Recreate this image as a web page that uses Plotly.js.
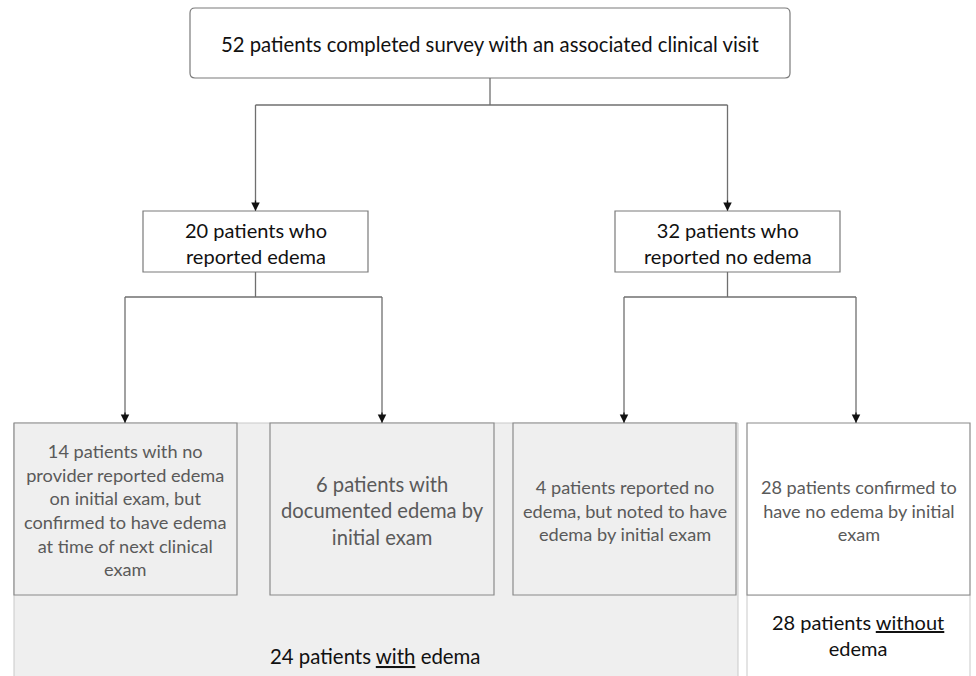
<!DOCTYPE html>
<html>
<head>
<meta charset="utf-8">
<script src="https://cdn.plot.ly/plotly-3.0.1.min.js"></script>
<style>html,body{margin:0;padding:0;background:#fff;}#chart{width:976px;height:676px;}</style>
</head>
<body>
<div id="chart"></div>
<script>
// ---- Flowchart content (data) ----
const rootLabel = "52 patients completed survey with an associated clinical visit";
const rootCount = 52;
const midLabels = ["20 patients who<br>reported edema", "32 patients who<br>reported no edema"];
const midCounts = [20, 32];
const leafLabels = [
  "14 patients with no<br>provider reported edema<br>on initial exam, but<br>confirmed to have edema<br>at time of next clinical<br>exam",
  "6 patients with<br>documented edema by<br>initial exam",
  "4 patients reported no<br>edema, but noted to have<br>edema by initial exam",
  "28 patients confirmed to<br>have no edema by initial<br>exam"
];
const leafCounts = [14, 6, 4, 28];
const leafParent = [0, 0, 1, 1];
const summaryLabels = ["24 patients <u>with</u> edema", "28 patients <u>without</u><br>edema"];
const summaryCounts = [24, 28];

// ---- Geometry (layout only) ----
const W = 976, H = 676;
const rootBox = {x0: 190, x1: 790, y0: 8, y1: 78, r: 5};
const midBoxes = [{x0: 143, x1: 368, y0: 211, y1: 272}, {x0: 615, x1: 840, y0: 211, y1: 272}];
const leafBoxes = [
  {x0: 14, x1: 237, y0: 423, y1: 595},
  {x0: 270, x1: 494, y0: 423, y1: 595},
  {x0: 513, x1: 736, y0: 423, y1: 595},
  {x0: 747, x1: 970, y0: 423, y1: 595}
];
const leafTargets = [125, 382, 624, 856];
const leafFont = [18.2, 20.2, 18.2, 18.1];
const rootBranchY = 105, midBranchY = 297;
const groupRegions = [
  {x0: 14, x1: 738, y0: 423, y1: 677, fill: "#efefef", text: {x: 375, y: 656, size: 20.4}},
  {x0: 747, x1: 970, y0: 595, y1: 677, fill: "#ffffff", text: {x: 858, y: 635, size: 20}}
];

const FONT = "Lato, 'Open Sans', sans-serif";
const shapes = [];
const annotations = [];
const lineCol = "#6f6f6f";

// group regions
groupRegions.forEach(g => {
  shapes.push({type: "rect", xref: "x", yref: "y", x0: g.x0, x1: g.x1, y0: g.y0, y1: g.y1,
    fillcolor: g.fill, line: {color: "#c9c9c9", width: 1}, layer: "below"});
});

// root box (rounded)
(function () {
  const b = rootBox, r = b.r;
  const p = `M ${b.x0 + r} ${b.y0} L ${b.x1 - r} ${b.y0} Q ${b.x1} ${b.y0} ${b.x1} ${b.y0 + r} ` +
    `L ${b.x1} ${b.y1 - r} Q ${b.x1} ${b.y1} ${b.x1 - r} ${b.y1} L ${b.x0 + r} ${b.y1} ` +
    `Q ${b.x0} ${b.y1} ${b.x0} ${b.y1 - r} L ${b.x0} ${b.y0 + r} Q ${b.x0} ${b.y0} ${b.x0 + r} ${b.y0} Z`;
  shapes.push({type: "path", xref: "x", yref: "y", path: p, fillcolor: "#ffffff", line: {color: "#7a7a7a", width: 1.2}});
  annotations.push({x: (b.x0 + b.x1) / 2, y: (b.y0 + b.y1) / 2 + 1, xref: "x", yref: "y", text: rootLabel,
    showarrow: false, font: {family: FONT, size: 20.3, color: "#111"}});
})();

function vline(x, y0, y1) {
  shapes.push({type: "line", xref: "x", yref: "y", x0: x, x1: x, y0: y0, y1: y1, line: {color: lineCol, width: 1.3}});
}
function hline(x0, x1, y) {
  shapes.push({type: "line", xref: "x", yref: "y", x0: x0, x1: x1, y0: y, y1: y, line: {color: lineCol, width: 1.3}});
}
function arrowTip(x, y) {
  annotations.push({x: x, y: y, ax: x, ay: y - 12, xref: "x", yref: "y", axref: "x", ayref: "y",
    text: "", showarrow: true, arrowhead: 2, arrowsize: 1.3, arrowwidth: 1.3, arrowcolor: "#111", standoff: 0});
}

// root -> mid
const rootCx = (rootBox.x0 + rootBox.x1) / 2;
const midCx = midBoxes.map(b => (b.x0 + b.x1) / 2);
vline(rootCx, rootBox.y1, rootBranchY);
hline(midCx[0], midCx[1], rootBranchY);
midBoxes.forEach((b, i) => {
  vline(midCx[i], rootBranchY, b.y0);
  arrowTip(midCx[i], b.y0);
});

// mid boxes
midBoxes.forEach((b, i) => {
  shapes.push({type: "rect", xref: "x", yref: "y", x0: b.x0, x1: b.x1, y0: b.y0, y1: b.y1,
    fillcolor: "#ffffff", line: {color: "#7a7a7a", width: 1.2}});
  annotations.push({x: midCx[i], y: (b.y0 + b.y1) / 2 + 1, xref: "x", yref: "y", text: midLabels[i],
    showarrow: false, font: {family: FONT, size: 20, color: "#111"}});
});

// mid -> leaves
midBoxes.forEach((b, i) => {
  vline(midCx[i], b.y1, midBranchY);
  const kids = leafParent.map((p, k) => p === i ? k : -1).filter(k => k >= 0);
  hline(leafTargets[kids[0]], leafTargets[kids[kids.length - 1]], midBranchY);
  kids.forEach(k => {
    vline(leafTargets[k], midBranchY, leafBoxes[k].y0);
    arrowTip(leafTargets[k], leafBoxes[k].y0);
  });
});

// leaf boxes
leafBoxes.forEach((b, i) => {
  shapes.push({type: "rect", xref: "x", yref: "y", x0: b.x0, x1: b.x1, y0: b.y0, y1: b.y1,
    fillcolor: i === 3 ? "#ffffff" : "#efefef", line: {color: "#8a8a8a", width: 1.2}});
  annotations.push({x: (b.x0 + b.x1) / 2, y: (b.y0 + b.y1) / 2 + 1, xref: "x", yref: "y", text: leafLabels[i],
    showarrow: false, font: {family: FONT, size: leafFont[i], color: "#5a5a5a"}});
});

// summaries
groupRegions.forEach((g, i) => {
  annotations.push({x: g.text.x, y: g.text.y, xref: "x", yref: "y", text: summaryLabels[i],
    showarrow: false, font: {family: FONT, size: g.text.size, color: "#111"}});
});

const layout = {
  width: W, height: H,
  margin: {l: 0, r: 0, t: 0, b: 0},
  paper_bgcolor: "#ffffff", plot_bgcolor: "#ffffff",
  xaxis: {range: [0, W], visible: false, fixedrange: true},
  yaxis: {range: [H, 0], visible: false, fixedrange: true},
  shapes: shapes, annotations: annotations, showlegend: false
};

Plotly.newPlot("chart", [{x: [0], y: [0], mode: "markers", marker: {opacity: 0}, hoverinfo: "skip", type: "scatter"}], layout, {displayModeBar: false, staticPlot: true});
</script>
</body>
</html>
